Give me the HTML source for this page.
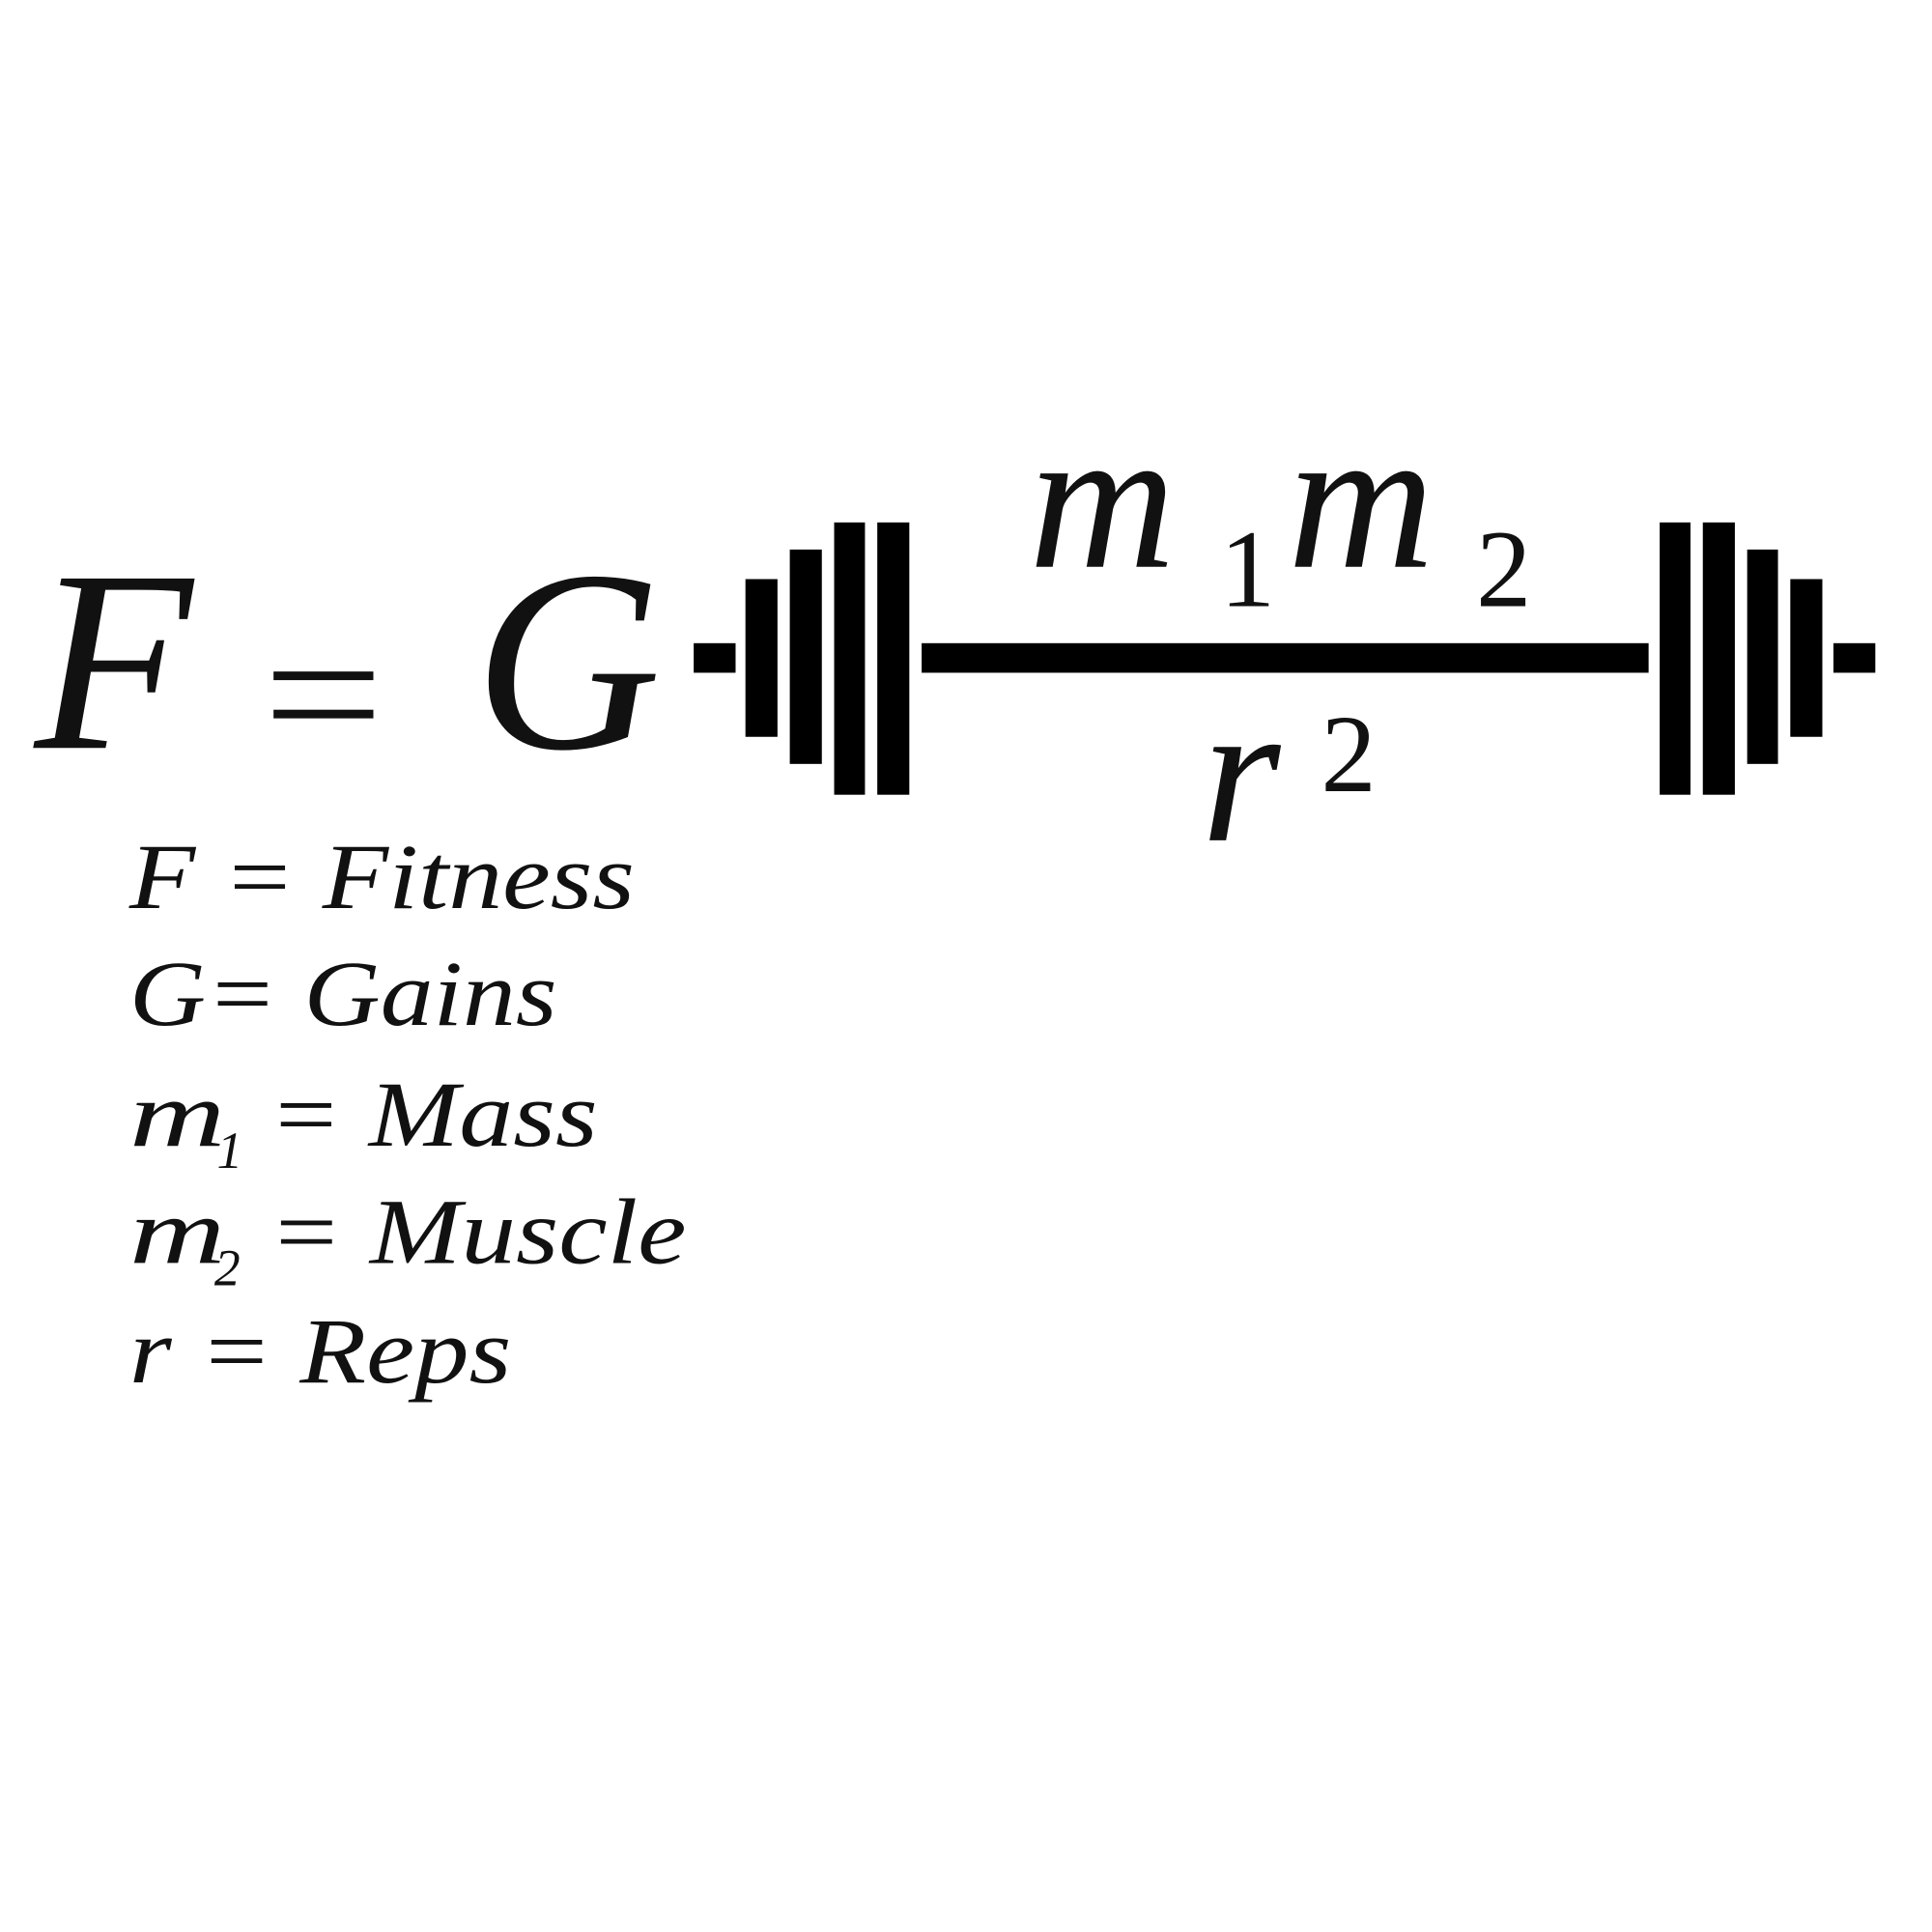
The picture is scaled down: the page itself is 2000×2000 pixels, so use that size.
<!DOCTYPE html>
<html><head><meta charset="utf-8"><style>
html,body{margin:0;padding:0;background:#fff;}
svg{display:block;}
text{font-family:"Liberation Serif",serif;font-style:italic;fill:#111;}
text.n{font-style:normal;}
</style></head><body>
<svg width="2000" height="2000" viewBox="0 0 1568 1568" xmlns="http://www.w3.org/2000/svg">
<rect width="1568" height="1568" fill="#fff"/>
<text x="28" y="607" font-size="210">F</text>
<rect x="222" y="545" width="81" height="7" fill="#111"/>
<rect x="222" y="576" width="81" height="7" fill="#111"/>
<text x="385" y="607" font-size="210">G</text>
<g fill="#000">
<rect x="563" y="522" width="34" height="24"/>
<rect x="605" y="470" width="26" height="128"/>
<rect x="641" y="446" width="26" height="174"/>
<rect x="677" y="424" width="25" height="221"/>
<rect x="712" y="424" width="26" height="221"/>
<rect x="748" y="522" width="590" height="24"/>
<rect x="1347" y="424" width="25" height="221"/>
<rect x="1382" y="424" width="26" height="221"/>
<rect x="1418" y="446" width="25" height="174"/>
<rect x="1453" y="470" width="26" height="128"/>
<rect x="1488" y="522" width="34" height="24"/>
</g>
<text x="835" y="460" font-size="165">m</text>
<text class="n" x="990" y="492" font-size="90">1</text>
<text x="1045" y="460" font-size="165">m</text>
<text class="n" x="1198" y="492" font-size="90">2</text>
<text x="975" y="682" font-size="165">r</text>
<text class="n" x="1072" y="642" font-size="90">2</text>
<g font-size="76">
<text x="105" y="737" textLength="410" lengthAdjust="spacingAndGlyphs">F = Fitness</text>
<text x="105" y="832" textLength="347" lengthAdjust="spacingAndGlyphs">G= Gains</text>
<text x="105" y="930" textLength="78" lengthAdjust="spacingAndGlyphs">m</text><text x="176" y="948" font-size="42">1</text><text x="218" y="930" textLength="267" lengthAdjust="spacingAndGlyphs">= Mass</text>
<text x="105" y="1025" textLength="78" lengthAdjust="spacingAndGlyphs">m</text><text x="174" y="1043" font-size="42">2</text><text x="218" y="1025" textLength="339" lengthAdjust="spacingAndGlyphs">= Muscle</text>
<text x="105" y="1122" textLength="310" lengthAdjust="spacingAndGlyphs">r = Reps</text>
</g>
</svg>
</body></html>
